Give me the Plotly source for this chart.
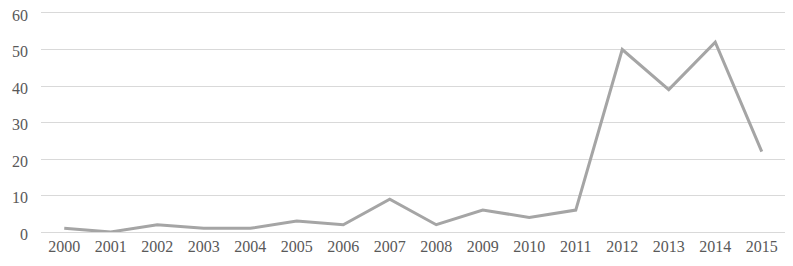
import plotly.graph_objects as go

years = ["2000", "2001", "2002", "2003", "2004", "2005", "2006", "2007",
         "2008", "2009", "2010", "2011", "2012", "2013", "2014", "2015"]
values = [1, 0, 2, 1, 1, 3, 2, 9, 2, 6, 4, 6, 50, 39, 52, 22]
y_ticks = [0, 10, 20, 30, 40, 50, 60]

fig = go.Figure()
fig.add_trace(go.Scatter(x=years, y=values, mode="lines",
                         line=dict(color="#A5A5A5", width=3)))

fig.update_layout(
    width=793, height=266,
    margin=dict(l=33, r=16, t=2, b=42, autoexpand=False),
    paper_bgcolor="white", plot_bgcolor="white",
    showlegend=False,
    font=dict(family="Liberation Serif", size=16, color="#595959"),
)
fig.update_xaxes(type="category", range=[-0.5, len(years) - 0.5],
                 showgrid=False, showline=False, ticks="", automargin=False,
                 ticklabelstandoff=3, ticklabeloverflow="allow",
                 tickfont=dict(size=16, color="#595959"))
fig.update_yaxes(range=[0, 60.82], tickvals=y_ticks, showgrid=True,
                 gridcolor="#D9D9D9", gridwidth=1, zeroline=True,
                 zerolinecolor="#D9D9D9", zerolinewidth=1, showline=False,
                 ticks="", ticklabelstandoff=12, ticklabelshift=2,
                 automargin=False, ticklabeloverflow="allow",
                 tickfont=dict(size=16, color="#595959"))

fig.write_html("out.html")
